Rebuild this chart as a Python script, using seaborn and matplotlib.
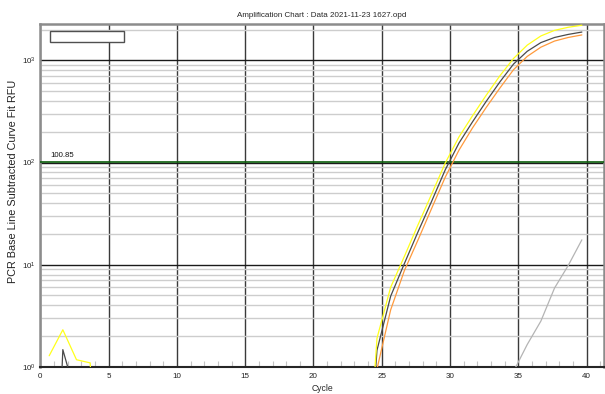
import numpy as np
import pandas as pd
import matplotlib
matplotlib.use("Agg")
import matplotlib.pyplot as plt
import matplotlib.ticker as mticker
from matplotlib.patches import Rectangle
import seaborn as sns

# ---- data ----
cycles = list(range(1, 41))
x_offset = 0.35

yellow = [1.28, 2.30, 1.17, 1.09] + [0.01] * 19 + [0.02,
          1.9, 6.0, 12.0, 24.5, 49, 99, 178, 288, 457, 708,
          1047, 1413, 1738, 1972, 2113, 2213]
dark = [0.001, 1.47, 0.49] + [0.01] * 20 + [0.02,
        1.45, 4.9, 10.2, 20.9, 41.7, 85, 155, 251, 398, 617,
        923, 1230, 1496, 1679, 1799, 1897]
orange = [0.01] * 24 + [
          0.95, 3.6, 8.7, 17.4, 35.5, 72, 132, 219, 347, 537,
          813, 1096, 1349, 1549, 1679, 1778]
grey = [0.01] * 34 + [0.9, 1.65, 2.8, 5.9, 9.8, 17.5]

series_names = ["grey", "orange", "dark", "yellow"]
series_values = [grey, orange, dark, yellow]
series_colors = {"grey": "#b4b4b4", "orange": "#ff9a3c", "dark": "#4a4a4a", "yellow": "#ffff1a"}

threshold = 100.85
title = "Amplification Chart : Data 2021-11-23 1627.opd"
xlabel = "Cycle"
ylabel = "PCR Base Line Subtracted Curve Fit RFU"
xticks = [0, 5, 10, 15, 20, 25, 30, 35, 40]

rows = []
for name, vals in zip(series_names, series_values):
    for c, v in zip(cycles, vals):
        rows.append({"x": c - x_offset, "rfu": v, "well": name})
df = pd.DataFrame(rows)

# ---- figure ----
sns.set_style("white")
plt.rcParams["font.family"] = ["Liberation Sans", "DejaVu Sans"]
plt.rcParams["mathtext.fontset"] = "custom"
plt.rcParams["mathtext.rm"] = "Liberation Sans"
plt.rcParams["mathtext.it"] = "Liberation Sans"

fig = plt.figure(figsize=(6.05, 3.94), dpi=100)
ax = fig.add_axes([40.3 / 605, 1 - 366.7 / 394, (604 - 40.3) / 605, (366.7 - 24) / 394])
ax.set_yscale("log", nonpositive="clip")

sns.lineplot(data=df, x="x", y="rfu", hue="well", palette=series_colors,
             hue_order=series_names, estimator=None, sort=False, legend=False,
             linewidth=0.9, ax=ax, zorder=5)

ax.set_xlim(0, 41.27)
ax.set_ylim(1, 10 ** 3.357)

# grid
ax.yaxis.set_major_locator(mticker.LogLocator(base=10, numticks=10))
ax.yaxis.set_minor_locator(mticker.LogLocator(base=10, subs=np.arange(2, 10), numticks=20))
ax.yaxis.set_minor_formatter(mticker.NullFormatter())
ax.set_xticks(xticks)
ax.xaxis.set_minor_locator(mticker.MultipleLocator(1))
ax.grid(which="minor", axis="y", color="#cdcdcd", lw=1.0, zorder=0)
ax.grid(which="major", axis="y", color="#1a1a1a", lw=1.0, zorder=1)
ax.grid(which="major", axis="x", color="#3a3a3a", lw=1.0, zorder=1)
ax.set_axisbelow(True)

ax.axhline(threshold, color="#0b5e0b", lw=1.2, zorder=3)
ax.text(0.7, threshold * 1.07, f"{threshold:.2f}", fontsize=5.6, color="#111111",
        va="bottom", ha="left", zorder=6)

# empty legend box
ax.add_patch(Rectangle((0.0172, 0.948), 0.132, 0.032, transform=ax.transAxes,
                       facecolor="white", edgecolor="#505050", lw=1.0, zorder=7))

ax.tick_params(axis="x", which="major", direction="out", length=2.5, width=0.8,
               colors="#222222", labelsize=5.8, pad=2)
ax.tick_params(axis="x", which="minor", direction="in", length=4, width=0.8,
               colors="#c4c4c4", bottom=True)
ax.tick_params(axis="y", which="major", direction="out", length=2.5, width=0.8,
               colors="#222222", labelsize=5.8, pad=1)
ax.tick_params(axis="y", which="minor", length=0)

for side in ["top", "left", "right"]:
    ax.spines[side].set_color("#8c8c8c")
    ax.spines[side].set_linewidth(1.8)
ax.spines["bottom"].set_color("#262626")
ax.spines["bottom"].set_linewidth(1.5)

ax.set_xlabel(xlabel, fontsize=6.2, labelpad=3)
ax.set_ylabel(ylabel, fontsize=7.8, color="#222222")
ax.yaxis.set_label_coords(-0.039, 0.54)
ax.set_title(title, fontsize=5.8, pad=5)

fig.savefig("out.png", dpi=100)
